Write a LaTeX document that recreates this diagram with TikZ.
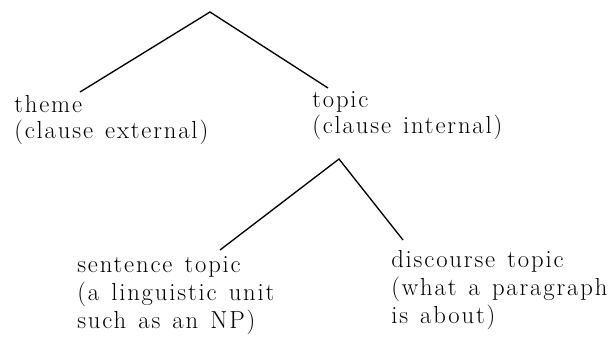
\documentclass[tikz,border=0pt]{standalone}
\usepackage{fontspec}
\newfontfamily\lblfont{Latin Modern Roman}[LetterSpace=7.5,WordSpace=1.3]
\usetikzlibrary{calc}
\begin{document}
\begin{tikzpicture}[x=0.75pt,y=-0.75pt,
  lbl/.style={anchor=north west,inner sep=0pt,align=left,font=\lblfont\fontsize{18.5}{19.5}\selectfont},
  lblb/.style={anchor=north west,inner sep=0pt,align=left,font=\lblfont\fontsize{18.5}{21}\selectfont},
  edge/.style={draw=black,line width=1pt}]
\useasboundingbox (0,0) rectangle (610,337);
\coordinate (root) at (210,12);
\node[lbl] (theme) at (14,95) {theme\\(clause external)};
\node[lbl] (topic) at (312,91) {topic\\(clause internal)};
\coordinate (topicapex) at ($(topic.north west)+(27,68)$);
\node[lblb] (sent) at (77,256) {sentence topic\\(a linguistic unit\\such as an NP)};
\node[lblb] (disc) at (391,250) {discourse topic\\(what a paragraph\\is about)};
\coordinate (themeend) at ($(theme.north west)+(66,-3)$);
\coordinate (topicend) at ($(topic.north west)+(16,-3)$);
\coordinate (sentend) at ($(sent.north west)+(143,-6)$);
\coordinate (discend) at ($(disc.north west)+(12,-10)$);
\draw[edge] (themeend) -- (root) -- (topicend);
\draw[edge] (sentend) -- (topicapex) -- (discend);
\end{tikzpicture}
\end{document}
